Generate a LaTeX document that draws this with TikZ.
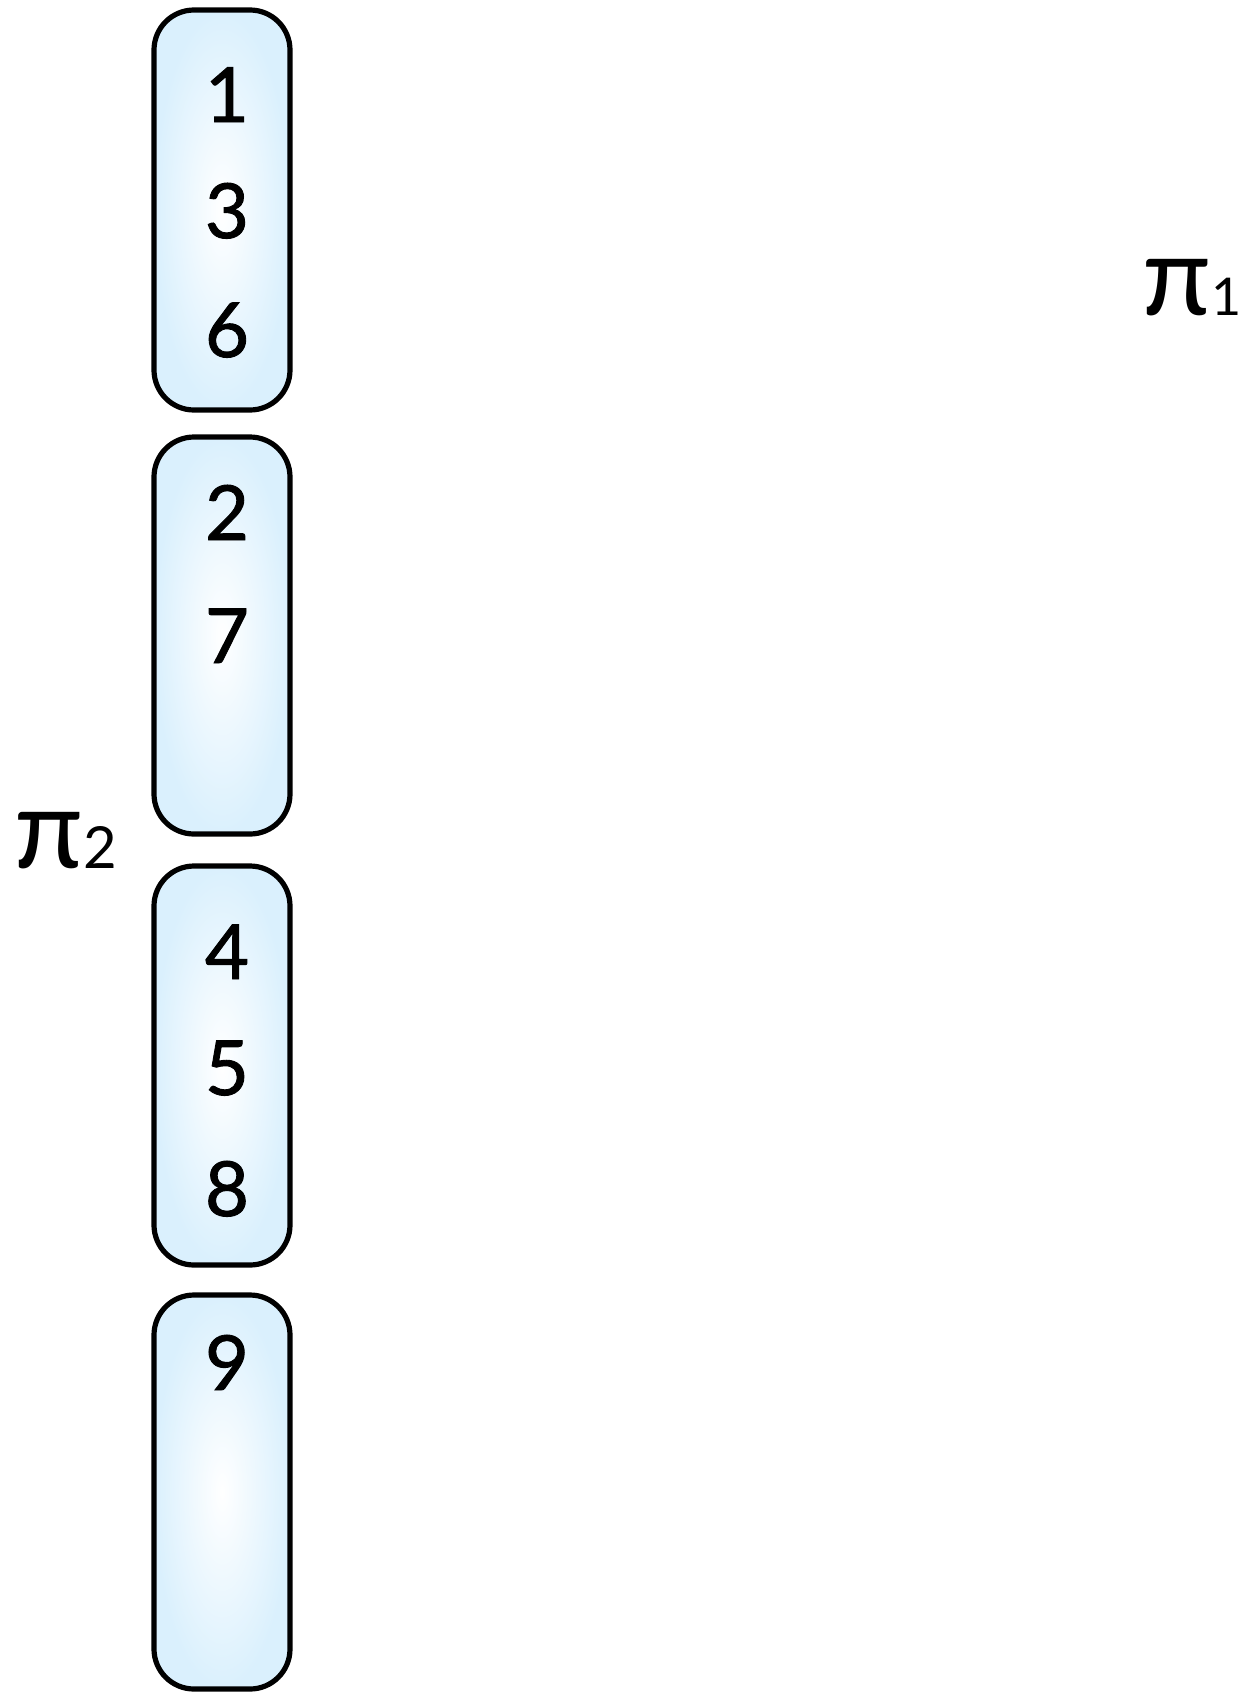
\documentclass[tikz,border=0pt]{standalone}
\usepackage{fontspec}
\setmainfont{Lato}
\newfontfamily\digitfont[FakeBold=1.2]{Lato}
\definecolor{boxedge}{RGB}{218,240,253}
\tikzset{
  part/.style={draw=black, line width=5.2pt, rounded corners=40pt,
    inner color=white, outer color=boxedge},
  digit/.style={anchor=base, inner sep=0pt, font=\digitfont\fontsize{76}{76}\selectfont},
  pilabel/.style={anchor=base west, inner sep=0pt, font=\fontsize{112}{112}\selectfont}
}
\begin{document}
\begin{tikzpicture}[x=1pt,y=-1pt]
\useasboundingbox (0,0) rectangle (1243,1692);
% blocks
\path[part] (154,10) rectangle (290,410);
\path[part] (154,437) rectangle (290,834);
\path[part] (154,866) rectangle (290,1265);
\path[part] (154,1295) rectangle (290,1689);
% digits
\node[digit] (d1) at (227,122) {1};
\node[digit] (d3) at (227,238) {3};
\node[digit] (d6) at (227,357) {6};
\node[digit] (d2) at (227,540) {2};
\node[digit] (d7) at (227,663) {7};
\node[digit] (d4) at (227,979) {4};
\node[digit] (d5) at (227,1095) {5};
\node[digit] (d8) at (227,1216) {8};
\node[digit] (d9) at (227,1390) {9};
% labels
\node[pilabel] (pi1) at (1142,315) {π{\fontsize{52}{52}\selectfont 1}};
\node[pilabel] (pi2) at (14,868) {π{\fontsize{58}{58}\selectfont 2}};
\end{tikzpicture}
\end{document}
